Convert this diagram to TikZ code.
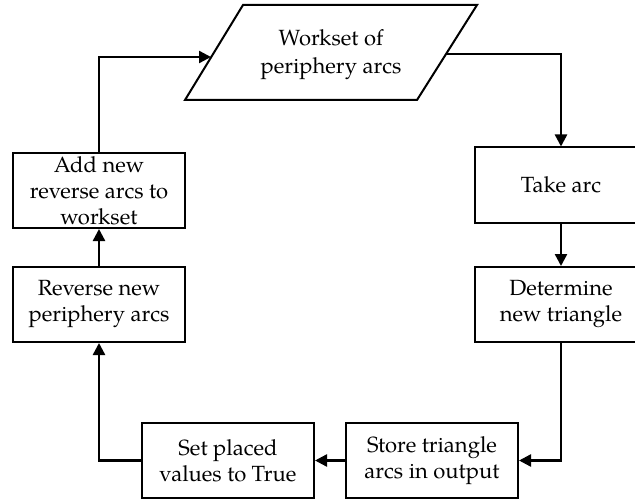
\documentclass[tikz,border=0pt]{standalone}
\usepackage{fontspec}
\setmainfont{TeX Gyre Pagella}
\usetikzlibrary{arrows.meta}
\begin{document}
\begin{tikzpicture}[x=1pt,y=-1pt,
  box/.style={draw,line width=2pt,minimum width=172pt,minimum height=75pt,inner sep=2pt,align=center,font=\fontsize{22}{26}\selectfont},
  conn/.style={line width=2.4pt,-{Triangle[length=12pt,width=12pt]}},
  lbl/.style={align=center,font=\fontsize{22}{28}\selectfont}]
\useasboundingbox (0,0) rectangle (635,500);
\clip (0,0) rectangle (635,500);
% parallelogram
\draw[line width=2pt] (243,5) -- (477,5) -- (417,100) -- (185,100) -- cycle;
\node[lbl] (ws) at (331,55) {Workset of\\periphery arcs};
\coordinate (wsin) at (211,57);
\coordinate (wsout) at (446,54);
\node[box] (add) at (99,190.5) {Add new\\reverse arcs to\\workset};
\node[box] (rev) at (99,304.5) {Reverse new\\periphery arcs};
\node[box] (take) at (561,185) {Take arc};
\node[box] (det) at (561,304.5) {Determine\\new triangle};
\node[box] (set) at (228,460.5) {Set placed\\values to True};
\node[box] (store) at (432,460.5) {Store triangle\\arcs in output};
\draw[conn] (wsout) -| (take.north);
\draw[conn] (take) -- (det);
\draw[conn] (det.south) |- (store.east);
\draw[conn] (store) -- (set);
\draw[conn] (set.west) -| (rev.south);
\draw[conn] (rev) -- (add);
\draw[conn] (add.north) |- (wsin);
\end{tikzpicture}
\end{document}
